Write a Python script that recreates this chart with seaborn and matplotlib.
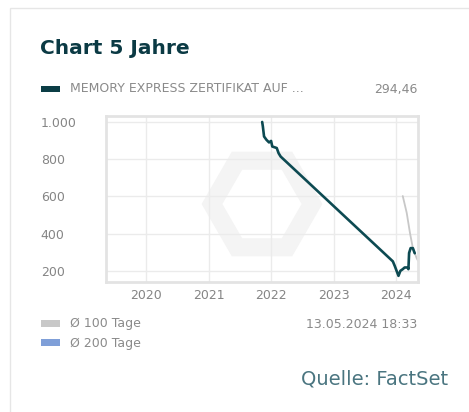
import pandas as pd
import matplotlib.pyplot as plt
import matplotlib.dates as mdates
from matplotlib.patches import RegularPolygon, Rectangle
import seaborn as sns

# Kursdaten
price_dates = ["2021-11-10", "2021-11-14", "2021-11-21", "2021-12-05", "2021-12-20",
               "2022-01-01", "2022-01-08", "2022-02-03", "2022-02-14", "2022-02-26",
               "2023-12-13", "2023-12-24", "2024-01-04", "2024-01-15", "2024-01-26",
               "2024-02-09", "2024-02-20", "2024-03-09", "2024-03-13", "2024-03-17",
               "2024-03-26", "2024-04-08", "2024-04-15", "2024-04-19"]
price_values = [1000, 976, 922, 904, 890, 898, 868, 860, 832, 814,
                251, 227, 200, 173, 200, 209, 218, 218, 209, 296,
                322, 322, 304, 294.46]

# 100-Tage-Durchschnitt
ma100_dates = ["2024-02-09", "2024-03-03", "2024-03-22", "2024-04-08", "2024-04-30", "2024-05-08"]
ma100_values = [602, 512, 404, 322, 268, 255]

year_ticks = [2020, 2021, 2022, 2023, 2024]
y_ticks = [200, 400, 600, 800, 1000]
y_labels = ["200", "400", "600", "800", "1.000"]

df_price = pd.DataFrame({"Datum": pd.to_datetime(price_dates), "Kurs": price_values})
df_ma = pd.DataFrame({"Datum": pd.to_datetime(ma100_dates), "Kurs": ma100_values})

sns.set_style("white")
plt.rcParams["font.family"] = ["DejaVu Sans"]

fig = plt.figure(figsize=(4.69, 4.12), dpi=100)

# Rahmen der Karte
fig.patches.append(Rectangle((10 / 469, -0.1), 1.2, 1 - 8 / 412 + 0.1, transform=fig.transFigure,
                             facecolor="none", edgecolor="#e6e6e6", linewidth=1))

ax = fig.add_axes([106 / 469, 1 - 282 / 412, 312 / 469, 166 / 412])

# Wasserzeichen (Logo), in Zoll gezeichnet damit es nicht verzerrt
ax.add_patch(RegularPolygon((2.62, 2.08), numVertices=6, radius=0.5, orientation=0.5236,
                            transform=fig.dpi_scale_trans, facecolor="none", edgecolor="#f4f4f4",
                            linewidth=13, zorder=0))

sns.lineplot(data=df_ma, x="Datum", y="Kurs", ax=ax, color="#c8c8c8", linewidth=1.3)
sns.lineplot(data=df_price, x="Datum", y="Kurs", ax=ax, color="#0d4a52", linewidth=1.9)

ax.set_xlim(pd.Timestamp("2019-05-13"), pd.Timestamp("2024-05-08"))
ax.set_ylim(140, 1032)
ax.set_xticks([pd.Timestamp(f"{y}-01-01") for y in year_ticks])
ax.xaxis.set_major_formatter(mdates.DateFormatter("%Y"))
ax.set_yticks(y_ticks)
ax.set_yticklabels(y_labels)
ax.set_xlabel("")
ax.set_ylabel("")
ax.grid(True, color="#ebebeb", linewidth=1)
ax.tick_params(axis="both", length=0, labelsize=9, labelcolor="#858585")
ax.tick_params(axis="x", pad=5)
ax.tick_params(axis="y", pad=47)
for lab in ax.get_yticklabels():
    lab.set_horizontalalignment("left")
for s in ax.spines.values():
    s.set_color("#e3e3e3")
    s.set_linewidth(2)

# Texte
fig.text(40 / 469, 1 - 48 / 412, "Chart 5 Jahre", fontsize=14.5, fontweight="bold",
         color="#0b3a44", va="center")
fig.patches.append(Rectangle((41 / 469, 1 - 92 / 412), 19 / 469, 6 / 412, transform=fig.transFigure,
                             facecolor="#0b3d45", edgecolor="none"))
fig.text(70 / 469, 1 - 89 / 412, "MEMORY EXPRESS ZERTIFIKAT AUF ...", fontsize=9,
         color="#8a8a8a", va="center")
fig.text(417 / 469, 1 - 89 / 412, "294,46", fontsize=9, color="#8a8a8a", va="center", ha="right")

fig.patches.append(Rectangle((41 / 469, 1 - 327 / 412), 19 / 469, 7 / 412, transform=fig.transFigure,
                             facecolor="#c8c8c8", edgecolor="none"))
fig.text(70 / 469, 1 - 324 / 412, "Ø 100 Tage", fontsize=9, color="#8a8a8a", va="center")
fig.patches.append(Rectangle((41 / 469, 1 - 346 / 412), 19 / 469, 7 / 412, transform=fig.transFigure,
                             facecolor="#7f9fd8", edgecolor="none"))
fig.text(70 / 469, 1 - 343 / 412, "Ø 200 Tage", fontsize=9, color="#8a8a8a", va="center")
fig.text(417 / 469, 1 - 324 / 412, "13.05.2024 18:33", fontsize=9, color="#8a8a8a",
         va="center", ha="right")
fig.text(448 / 469, 1 - 379 / 412, "Quelle: FactSet", fontsize=14, color="#4a7580",
         va="center", ha="right")

fig.savefig("out.png", dpi=100)
